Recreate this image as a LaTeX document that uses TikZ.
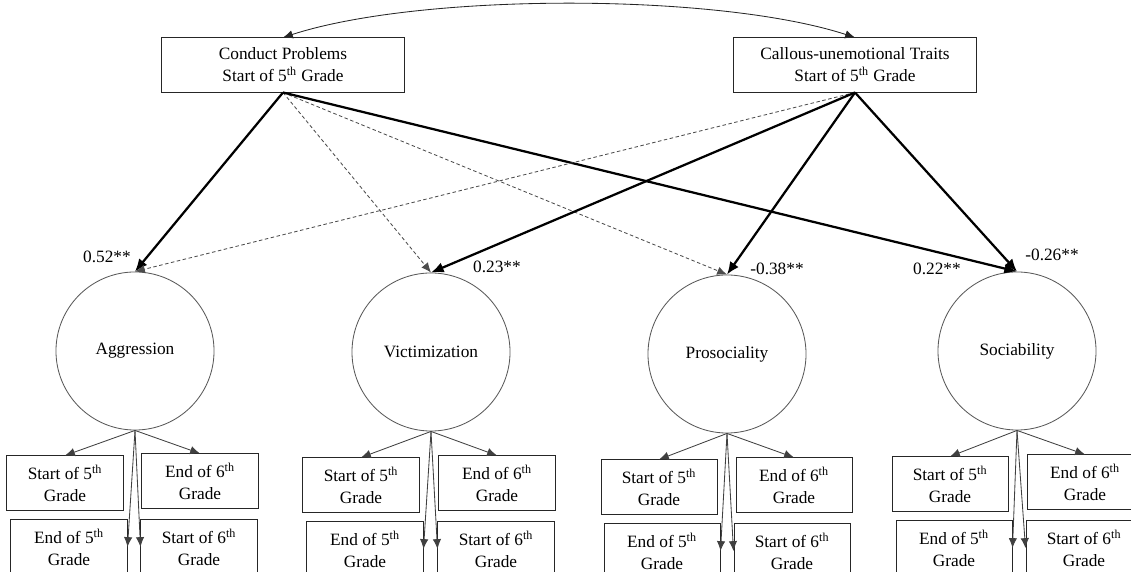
\documentclass[tikz,border=0pt]{standalone}
\usepackage{fontspec}
\setmainfont{Liberation Serif}
\usepackage{tikz}
\usetikzlibrary{arrows.meta}
\colorlet{penColor}{black!85}
\colorlet{penColor2}{black!65}
\colorlet{dashColor}{black!70}
\tikzset{>={Latex[length=7pt,width=6pt]},
  every node/.style={font=\fontsize{12.3pt}{15.6pt}\selectfont},
  topbox/.style={draw=penColor,line width=.7pt,minimum width=6.05cm,
    minimum height=1.35cm,align=center,inner sep=0pt},
  itembox/.style={draw=penColor,line width=.7pt,minimum width=2.9cm,
    minimum height=1.35cm,align=center,inner sep=0pt},
  latent/.style={circle,draw=penColor2,line width=.6pt,minimum size=3.95cm,inner sep=0pt},
  strong/.style={-{Latex[length=9pt,width=7.5pt]},line width=1.6pt},
  weak/.style={->,dashColor,line width=.6pt,dash pattern=on 2.5pt off 1.8pt},
  load/.style={->,black!75,line width=.6pt}}

\begin{document}
\begin{tikzpicture}[x=0.025cm,y=0.025cm]
    \path[use as bounding box,clip] (0,0) rectangle (1131,572);

    \node[topbox] (CP) at (283,507) {Conduct Problems\\Start of 5\textsuperscript{th} Grade};
    \node[topbox] (CU) at (855,507) {Callous-unemotional Traits\\Start of 5\textsuperscript{th} Grade};
    \draw[penColor,line width=.6pt,<->] (CP.north) to[out=18,in=162,looseness=.65] (CU.north);

    \node[latent] (Agg) at (135,221) {Aggression};
    \node[latent] (Vic) at (431,220) {Victimization};
    \node[latent] (Pro) at (727,218) {Prosociality};
    \node[latent] (Soc) at (1017,221) {Sociability};

    \draw[strong] (CP.south) -- (Agg.north);
    \draw[weak] (CP.south) -- (Vic.north);
    \draw[weak] (CP.south) -- (Pro.north);
    \draw[strong] (CP.south) -- (Soc.north);
    \draw[weak] (CU.south) -- (Agg.north);
    \draw[strong] (CU.south) -- (Vic.north);
    \draw[strong] (CU.south) -- (Pro.north);
    \draw[strong] (CU.south) -- (Soc.north);

    \node (cAgg) at (107,315) {0.52**};
    \node (cVic) at (497,305) {0.23**};
    \node (cPro) at (777,303) {-0.38**};
    \node (cSocCP) at (937,303) {0.22**};
    \node (cSoc) at (1052,317) {-0.26**};

    \node[itembox] (Agg1) at (65,89) {Start of 5\textsuperscript{th}\\Grade};
    \node[itembox] (Agg4) at (200,91) {End of 6\textsuperscript{th}\\Grade};
    \node[itembox] (Agg2) at (69,25) {End of 5\textsuperscript{th}\\Grade};
    \node[itembox] (Agg3) at (199,25) {Start of 6\textsuperscript{th}\\Grade};
    \draw[load] (Agg.south) -- (Agg1.north);
    \draw[load] (Agg.south) -- (Agg4.north);
    \draw[load] (Agg.south) -- (Agg2.east);
    \draw[load] (Agg.south) -- (Agg3.west);

    \node[itembox] (Vic1) at (361,87) {Start of 5\textsuperscript{th}\\Grade};
    \node[itembox] (Vic4) at (497,89) {End of 6\textsuperscript{th}\\Grade};
    \node[itembox] (Vic2) at (365,23) {End of 5\textsuperscript{th}\\Grade};
    \node[itembox] (Vic3) at (496,23) {Start of 6\textsuperscript{th}\\Grade};
    \draw[load] (Vic.south) -- (Vic1.north);
    \draw[load] (Vic.south) -- (Vic4.north);
    \draw[load] (Vic.south) -- (Vic2.east);
    \draw[load] (Vic.south) -- (Vic3.west);

    \node[itembox] (Pro1) at (659,85) {Start of 5\textsuperscript{th}\\Grade};
    \node[itembox] (Pro4) at (794,87) {End of 6\textsuperscript{th}\\Grade};
    \node[itembox] (Pro2) at (662,21) {End of 5\textsuperscript{th}\\Grade};
    \node[itembox] (Pro3) at (792,21) {Start of 6\textsuperscript{th}\\Grade};
    \draw[load] (Pro.south) -- (Pro1.north);
    \draw[load] (Pro.south) -- (Pro4.north);
    \draw[load] (Pro.south) -- (Pro2.east);
    \draw[load] (Pro.south) -- (Pro3.west);

    \node[itembox] (Soc1) at (950,88) {Start of 5\textsuperscript{th}\\Grade};
    \node[itembox] (Soc4) at (1085,90) {End of 6\textsuperscript{th}\\Grade};
    \node[itembox] (Soc2) at (954,24) {End of 5\textsuperscript{th}\\Grade};
    \node[itembox] (Soc3) at (1084,24) {Start of 6\textsuperscript{th}\\Grade};
    \draw[load] (Soc.south) -- (Soc1.north);
    \draw[load] (Soc.south) -- (Soc4.north);
    \draw[load] (Soc.south) -- (Soc2.east);
    \draw[load] (Soc.south) -- (Soc3.west);
  \end{tikzpicture}
\end{document}
